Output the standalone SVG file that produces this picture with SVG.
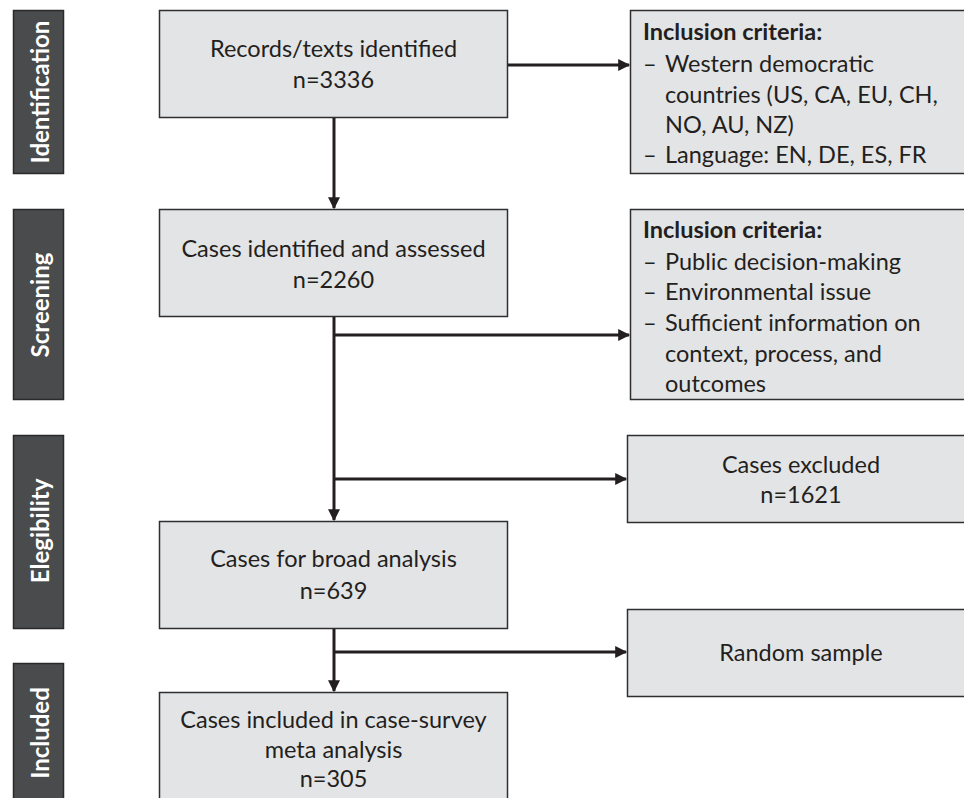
<svg xmlns="http://www.w3.org/2000/svg" width="964" height="798" viewBox="0 0 964 798">
  <style>
    .stage { fill: #4a4b4d; stroke: #2a2a2a; stroke-width: 1.5; }
    .stage-label { font-family: Lato, "Open Sans", sans-serif; font-weight: bold; font-size: 24px; fill: #ffffff; text-anchor: middle; dominant-baseline: central; }
    .box { fill: #e3e4e6; stroke: #2f2f2f; stroke-width: 1.5; }
    .txt { font-family: Lato, "Open Sans", sans-serif; font-size: 23.5px; fill: #231f20; }
    .c { text-anchor: middle; }
    .b { font-weight: bold; }
    .link { fill: none; stroke: #231f20; stroke-width: 3; }
  </style>
  <defs>
    <marker id="arrow" viewBox="0 0 10 10" refX="9" refY="5" markerWidth="4.2" markerHeight="4" markerUnits="strokeWidth" orient="auto">
      <path d="M0,0 L10,5 L0,10 z" fill="#231f20"/>
    </marker>
  </defs>
  <rect width="964" height="798" fill="#ffffff"/>

  <!-- stage bars -->
  <g id="stage-identification">
    <rect class="stage" x="13.5" y="10.5" width="50" height="163"/>
    <text class="stage-label" transform="translate(39 92) rotate(-90)">Identification</text>
  </g>
  <g id="stage-screening">
    <rect class="stage" x="13.5" y="209.5" width="50" height="190"/>
    <text class="stage-label" transform="translate(39 305) rotate(-90)">Screening</text>
  </g>
  <g id="stage-eligibility">
    <rect class="stage" x="13.5" y="435.5" width="50" height="193"/>
    <text class="stage-label" transform="translate(39 531) rotate(-90)">Elegibility</text>
  </g>
  <g id="stage-included">
    <rect class="stage" x="13.5" y="663.5" width="50" height="150"/>
    <text class="stage-label" transform="translate(39 733) rotate(-90)">Included</text>
  </g>

  <!-- main flow boxes -->
  <g id="records">
    <rect class="box" x="159.5" y="10.5" width="348" height="107"/>
    <text class="txt c" x="333.5" y="57">Records/texts identified</text>
    <text class="txt c" x="333.5" y="88">n=3336</text>
  </g>
  <g id="assessed">
    <rect class="box" x="159.5" y="209.5" width="348" height="107"/>
    <text class="txt c" x="333.5" y="257">Cases identified and assessed</text>
    <text class="txt c" x="333.5" y="288">n=2260</text>
  </g>
  <g id="broad">
    <rect class="box" x="159.5" y="521.5" width="348" height="107"/>
    <text class="txt c" x="333.5" y="567">Cases for broad analysis</text>
    <text class="txt c" x="333.5" y="599">n=639</text>
  </g>
  <g id="included">
    <rect class="box" x="159.5" y="692.5" width="348" height="130"/>
    <text class="txt c" x="333.5" y="728">Cases included in case-survey</text>
    <text class="txt c" x="333.5" y="758">meta analysis</text>
    <text class="txt c" x="333.5" y="787">n=305</text>
  </g>

  <!-- side boxes -->
  <g id="criteria-identification">
    <rect class="box" x="630.5" y="10.5" width="345" height="163"/>
    <text class="txt b" x="643" y="40">Inclusion criteria:</text>
    <text class="txt" x="643" y="72">–</text>
    <text class="txt" x="665" y="72">Western democratic</text>
    <text class="txt" x="665" y="103">countries (US, CA, EU, CH,</text>
    <text class="txt" x="665" y="133">NO, AU, NZ)</text>
    <text class="txt" x="643" y="163">–</text>
    <text class="txt" x="665" y="163">Language: EN, DE, ES, FR</text>
  </g>
  <g id="criteria-screening">
    <rect class="box" x="630.5" y="209.5" width="345" height="190"/>
    <text class="txt b" x="643" y="238">Inclusion criteria:</text>
    <text class="txt" x="643" y="270">–</text>
    <text class="txt" x="665" y="270">Public decision-making</text>
    <text class="txt" x="643" y="300">–</text>
    <text class="txt" x="665" y="300">Environmental issue</text>
    <text class="txt" x="643" y="331">–</text>
    <text class="txt" x="665" y="331">Sufficient information on</text>
    <text class="txt" x="665" y="362">context, process, and</text>
    <text class="txt" x="665" y="392">outcomes</text>
  </g>
  <g id="excluded">
    <rect class="box" x="627.5" y="435.5" width="348" height="87"/>
    <text class="txt c" x="801" y="473">Cases excluded</text>
    <text class="txt c" x="801" y="503">n=1621</text>
  </g>
  <g id="sample">
    <rect class="box" x="627.5" y="609.5" width="348" height="87"/>
    <text class="txt c" x="801" y="661">Random sample</text>
  </g>

  <!-- connectors -->
  <g id="connectors">
    <path class="link" d="M334,118 V208" marker-end="url(#arrow)"/>
    <path class="link" d="M508,65 H629" marker-end="url(#arrow)"/>
    <path class="link" d="M334,317 V520" marker-end="url(#arrow)"/>
    <path class="link" d="M334,335 H629" marker-end="url(#arrow)"/>
    <path class="link" d="M334,479 H626" marker-end="url(#arrow)"/>
    <path class="link" d="M334,629 V691" marker-end="url(#arrow)"/>
    <path class="link" d="M334,652 H626" marker-end="url(#arrow)"/>
  </g>
</svg>
